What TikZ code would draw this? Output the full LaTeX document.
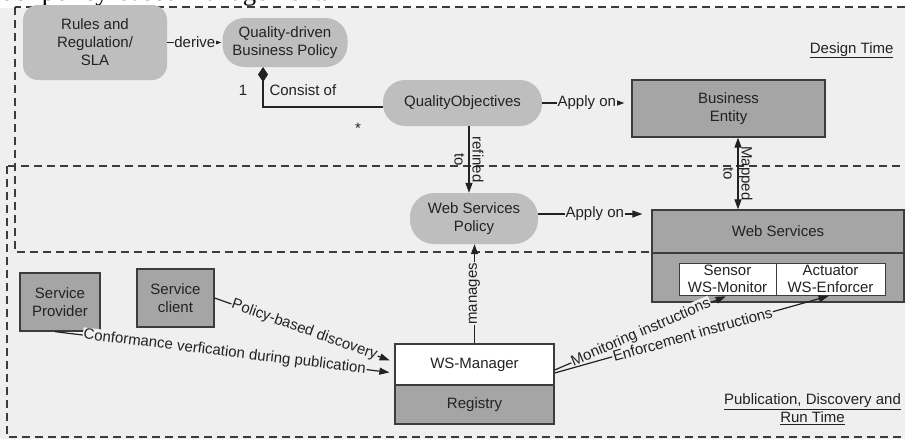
\documentclass[tikz,border=0pt]{standalone}
\usepackage{fontspec}
\setmainfont{Liberation Sans}
\newfontfamily\capfont{Liberation Serif}
\usetikzlibrary{arrows.meta,calc}
\definecolor{bg}{HTML}{EFEFEF}
\definecolor{softgray}{HTML}{BEBEBE}
\definecolor{boxgray}{HTML}{A5A5A5}
\definecolor{ink}{HTML}{222222}
\definecolor{edge}{HTML}{3C3C3C}
\begin{document}
\begin{tikzpicture}[x=1pt,y=-1pt,
  every node/.style={font=\fontsize{15}{18}\selectfont, text=ink},
  pill/.style={fill=softgray, align=center, inner sep=0pt},
  block/.style={fill=boxgray, draw=edge, line width=1.3pt, align=center, inner sep=0pt},
  plain/.style={fill=white, draw=edge, line width=1.3pt, align=center, inner sep=0pt},
  conn/.style={draw=ink, line width=1.2pt},
  tip/.tip={Triangle[length=10pt,width=7pt]},
  arr/.style={conn, -tip},
  lbl/.style={fill=bg, inner sep=0.8pt},
  zone/.style={draw=edge, line width=1.2pt, dash pattern=on 8pt off 5pt},
]
\useasboundingbox (0,0) rectangle (905,439);
\clip (0,0) rectangle (905,439);
\fill[white] (0,0) rectangle (905,439);
\fill[bg] (0,8) rectangle (905,439);

% caption line running above the figure
\node[anchor=base west, inner sep=0pt, font=\capfont\fontsize{26.7}{30}\selectfont, text=black] (cap) at (1,0) {der policy-based management.};

% design-time and run-time zones
\draw[zone] (15,7) rectangle (930,252);
\draw[zone] (7,166) rectangle (930,437);

% design-time elements
\node[pill, minimum width=144pt, minimum height=75pt, rounded corners=15pt] (rules) at (95,42.5) {Rules and\\Regulation/\\SLA};
\node[pill, minimum width=125pt, minimum height=49pt, rounded corners=22pt] (qbp) at (285,42.5) {Quality-driven\\Business Policy};
\node[pill, minimum width=159pt, minimum height=46pt, rounded corners=22pt] (qo) at (462.5,103) {QualityObjectives};
\node[block, minimum width=193pt, minimum height=57pt] (be) at (728.5,108.5) {Business\\Entity};

% shared layer
\node[pill, minimum width=128pt, minimum height=51pt, rounded corners=24pt] (wsp) at (474,218.5) {Web Services\\Policy};
\node[block, minimum width=252pt, minimum height=92pt] (ws) at (778,256) {};
\node[block, minimum width=252pt, minimum height=43pt] (wshead) at (778,231.5) {Web Services};
\node[plain, line width=1pt, minimum width=97pt, minimum height=32pt, font=\fontsize{15}{17}\selectfont] (sen) at (727.5,279) {Sensor\\WS-Monitor};
\node[plain, line width=1pt, minimum width=109pt, minimum height=32pt, font=\fontsize{15}{17}\selectfont] (act) at (830.5,279) {Actuator\\WS-Enforcer};

% run-time elements
\node[block, minimum width=80pt, minimum height=58pt] (sp) at (60,302) {Service\\Provider};
\node[block, minimum width=77pt, minimum height=58pt] (sc) at (175.5,298) {Service\\client};
\node[plain, minimum width=159pt, minimum height=41pt] (wsm) at (474.5,364.5) {WS-Manager};
\node[block, minimum width=159pt, minimum height=39pt] (reg) at (474.5,404.5) {Registry};

% zone titles
\node[anchor=base east] (dt) at (897,53) {\underline{Design Time}};
\node[align=center] (pdr) at (812.5,409) {\underline{Publication, Discovery and}\\\underline{Run Time}};

% relations
\draw[arr, shorten >=1pt] (rules) -- node[lbl] {derive} (qbp);

\coordinate (cmp) at (263,67);
\draw[conn, {Diamond[length=15pt,width=10pt]}-] (cmp) |- ([yshift=-4pt]qo.west);
\node (one) at (243,90) {1};
\node[anchor=west] (cons) at (266,90) {Consist of};
\node (many) at (358,128) {*};

\draw[arr, shorten >=7pt] (qo.east) -- node[lbl] {Apply on} (qo.east -| be.west);

\draw[arr] ([xshift=6.5pt]qo.south) -- ([xshift=-5pt]wsp.north)
  node[midway, rotate=-90, align=center, inner sep=0pt] {refined\\to};

\draw[conn, tip-tip] ([xshift=9.5pt]be.south) -- ([xshift=-40pt]wshead.north)
  node[midway, rotate=-90, align=center, inner sep=0pt] {Mapped\\to};

\draw[arr, shorten >=9pt] ([yshift=4.5pt]wsp.east) -- ([yshift=4.5pt]wsp.east -| wshead.west)
  node[midway, lbl] {Apply on};

\draw[arr] (wsm.north) -- (wsm.north |- wsp.south)
  node[midway, lbl, rotate=90] {manages};

\draw[arr, shorten >=5pt] (sc.east) -- ([yshift=2.5pt]wsm.west)
  node[midway, lbl, sloped] {Policy-based discovery};
\draw[arr, shorten >=5pt] ([xshift=-5pt]sp.south) -- ([yshift=-8.5pt]wsm.west)
  node[midway, lbl, sloped] {Conformance verfication during publication};

\draw[arr, shorten >=2pt] ([yshift=-5.5pt]wsm.east) -- (sen.south)
  node[midway, lbl, sloped] {Monitoring instructions};
\draw[arr, shorten >=2pt] ([yshift=-8.5pt]wsm.east) -- (act.south)
  node[midway, lbl, sloped] {Enforcement instructions};
\end{tikzpicture}
\end{document}
